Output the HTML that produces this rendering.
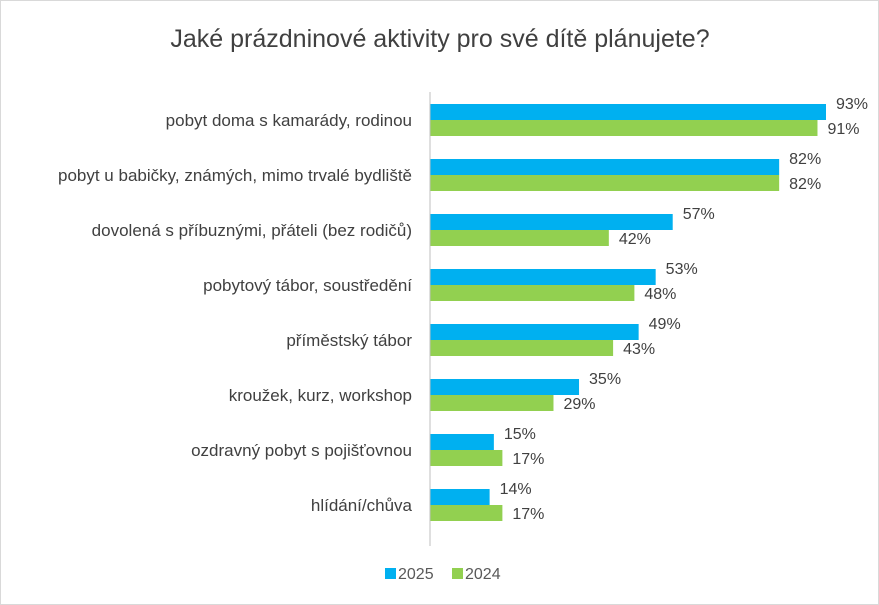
<!DOCTYPE html>
<html><head><meta charset="utf-8"><style>
body{margin:0;background:#fff;}
svg{display:block;font-family:"Liberation Sans",sans-serif;}
</style></head><body>
<svg width="879" height="605" viewBox="0 0 879 605">
<rect x="0.5" y="0.5" width="878" height="604" fill="#fff" stroke="#d9d9d9"/>
<text x="440" y="47" text-anchor="middle" font-size="25" fill="#404040">Jaké prázdninové aktivity pro své dítě plánujete?</text>
<g id="plot"></g>
<line x1="430" y1="92" x2="430" y2="546" stroke="#bfbfbf"/>
<rect x="385" y="568" width="11" height="11" fill="#00B0F0"/>
<text x="398" y="579" font-size="16" fill="#595959">2025</text>
<rect x="452" y="568" width="11" height="11" fill="#92D050"/>
<text x="465" y="579" font-size="16" fill="#595959">2024</text>
</svg>
<script>
const categories=["pobyt doma s kamarády, rodinou","pobyt u babičky, známých, mimo trvalé bydliště","dovolená s příbuznými, přáteli (bez rodičů)","pobytový tábor, soustředění","příměstský tábor","kroužek, kurz, workshop","ozdravný pobyt s pojišťovnou","hlídání/chůva"];
const values2025=[93,82,57,53,49,35,15,14];
const values2024=[91,82,42,48,43,29,17,17];
const x0=430, pxPer=4.258;
function xs(v){return x0+v*pxPer;}
function yc(i){return 120+i*55;}
const g=document.getElementById('plot');
const NS='http://www.w3.org/2000/svg';
function mk(t,a){const e=document.createElementNS(NS,t);for(const k in a)e.setAttribute(k,a[k]);g.appendChild(e);return e;}
categories.forEach((c,i)=>{
  const y=yc(i);
  const lab=mk('text',{x:412,y:y+6,'text-anchor':'end','font-size':17,fill:'#404040'});
  lab.textContent=c;
  
  
  const b1=mk('rect',{x:x0,y:y-16,width:xs(values2025[i])-x0,height:16,fill:'#00B0F0'});
  
  
  const b2=mk('rect',{x:x0,y:y,width:xs(values2024[i])-x0,height:16,fill:'#92D050'});
  
  
  const t1=mk('text',{x:xs(values2025[i])+10,y:y-11,'font-size':16,fill:'#404040'});
  t1.textContent=values2025[i]+'%';
  
  
  const t2=mk('text',{x:xs(values2024[i])+10,y:y+14,'font-size':16,fill:'#404040'});
  t2.textContent=values2024[i]+'%';
  
  
});
</script>
</body></html>
